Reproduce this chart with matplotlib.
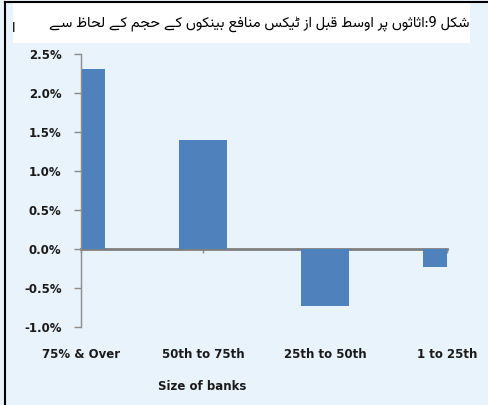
import numpy as np
import matplotlib
matplotlib.use("Agg")
import matplotlib.pyplot as plt
from matplotlib import font_manager
from matplotlib.ft2font import FT2Font
from matplotlib.ticker import FuncFormatter
from matplotlib.patches import Rectangle
from matplotlib.lines import Line2D

# data
categories = ["75% & Over", "50th to 75th", "25th to 50th", "1 to 25th"]
roa_pct = [2.30, 1.40, -0.73, -0.23]
title_ur = "شکل 9:اثاثوں پر اوسط قبل از ٹیکس منافع بینکوں کے حجم کے لحاظ سے"
xlabel = "Size of banks"

# matplotlib has no arabic shaping, so pick presentation forms by hand
# (iso, fin, ini, med) for dual joining, (iso, fin) for right joining
FORMS = {
    "ا": (0xFE8D, 0xFE8E),
    "ب": (0xFE8F, 0xFE90, 0xFE91, 0xFE92),
    "پ": (0xFB56, 0xFB57, 0xFB58, 0xFB59),
    "ٹ": (0xFB66, 0xFB67, 0xFB68, 0xFB69),
    "ث": (0xFE99, 0xFE9A, 0xFE9B, 0xFE9C),
    "ج": (0xFE9D, 0xFE9E, 0xFE9F, 0xFEA0),
    "ح": (0xFEA1, 0xFEA2, 0xFEA3, 0xFEA4),
    "ر": (0xFEAD, 0xFEAE),
    "ز": (0xFEAF, 0xFEB0),
    "س": (0xFEB1, 0xFEB2, 0xFEB3, 0xFEB4),
    "ش": (0xFEB5, 0xFEB6, 0xFEB7, 0xFEB8),
    "ط": (0xFEC1, 0xFEC2, 0xFEC3, 0xFEC4),
    "ظ": (0xFEC5, 0xFEC6, 0xFEC7, 0xFEC8),
    "ع": (0xFEC9, 0xFECA, 0xFECB, 0xFECC),
    "ف": (0xFED1, 0xFED2, 0xFED3, 0xFED4),
    "ق": (0xFED5, 0xFED6, 0xFED7, 0xFED8),
    "ک": (0xFB8E, 0xFB8F, 0xFB90, 0xFB91),
    "ل": (0xFEDD, 0xFEDE, 0xFEDF, 0xFEE0),
    "م": (0xFEE1, 0xFEE2, 0xFEE3, 0xFEE4),
    "ن": (0xFEE5, 0xFEE6, 0xFEE7, 0xFEE8),
    "و": (0xFEED, 0xFEEE),
    "ں": (0xFB9E, 0xFB9F),
    "ی": (0xFBFC, 0xFBFD, 0xFBFE, 0xFBFF),
    "ے": (0xFBAE, 0xFBAF),
}


def shape_rtl(s):
    out = []
    for i, c in enumerate(s):
        f = FORMS.get(c)
        if f is None:
            out.append(c)
            continue
        prev = s[i - 1] if i > 0 else ""
        nxt = s[i + 1] if i + 1 < len(s) else ""
        joins_prev = prev in FORMS and len(FORMS[prev]) == 4
        joins_next = len(f) == 4 and nxt in FORMS
        if joins_prev and joins_next:
            out.append(chr(f[3]))
        elif joins_prev:
            out.append(chr(f[1]))
        elif joins_next:
            out.append(chr(f[2]))
        else:
            out.append(chr(f[0]))
    return "".join(out)[::-1]


title_vis = shape_rtl(title_ur)

# find an installed family that has every shaped glyph (Vazirmatn if there)
need = {ord(c) for c in title_vis if ord(c) > 0x600}
urdu_family = "DejaVu Sans"
fonts = sorted(font_manager.fontManager.ttflist, key=lambda f: f.name != "Vazirmatn")
for f in fonts:
    try:
        cm = FT2Font(f.fname).get_charmap()
    except Exception:
        continue
    if need <= set(cm.keys()):
        urdu_family = f.name
        break

bg = "#e8f3fc"
bar_color = "#4f81bd"

fig = plt.figure(figsize=(4.89, 4.05), dpi=100, facecolor=bg)

# white title box and the black frame on top / left
fig.patches.append(Rectangle((0.027, 0.894), 0.935, 0.099, transform=fig.transFigure,
                             facecolor="white", edgecolor="none", zorder=0))
fig.lines.append(Line2D([0.010, 0.010], [0.0, 0.995], transform=fig.transFigure, color="black", lw=1.5))
fig.lines.append(Line2D([0.010, 1.0], [0.995, 0.995], transform=fig.transFigure, color="black", lw=1.5))

fig.text(0.960, 0.942, title_vis, ha="right", va="center", fontsize=10.5,
         family=[urdu_family, "DejaVu Sans"], color="black")
fig.text(0.024, 0.930, "ا", ha="left", va="center", fontsize=11,
         family=[urdu_family, "DejaVu Sans"])

ax = fig.add_axes([0.1656, 0.193, 0.7485, 0.674])
ax.set_facecolor("none")

x = np.arange(len(categories))
ax.bar(x, roa_pct, width=0.4, color=bar_color, zorder=2)

ax.set_xlim(0, 3)
ax.set_ylim(-1.0, 2.5)
ax.set_yticks(np.arange(-1.0, 2.51, 0.5))
ax.yaxis.set_major_formatter(FuncFormatter(lambda v, p: "{:.1f}%".format(v)))

for s in ["top", "right", "bottom"]:
    ax.spines[s].set_visible(False)
ax.spines["left"].set_color("#8c8c8c")
ax.spines["left"].set_linewidth(1.0)

ax.tick_params(axis="y", length=5, width=1, color="#8c8c8c", pad=9,
               labelsize=8.5, labelcolor="#1a1a1a")
ax.set_xticks(x)
ax.set_xticklabels(categories, fontsize=8.5, fontweight="bold", color="#1a1a1a")
ax.tick_params(axis="x", length=0, pad=15)
for lab in ax.get_yticklabels():
    lab.set_fontweight("bold")

# category axis crossing at zero
zero_ax = ax.secondary_xaxis(0, transform=ax.transData)
zero_ax.set_xticks(x)
zero_ax.tick_params(length=3, width=1, color="#8c8c8c", labelbottom=False)
zero_ax.spines["bottom"].set_color("#7f7f7f")
zero_ax.spines["bottom"].set_linewidth(2)

ax.set_xlabel(xlabel, fontsize=8.5, fontweight="bold", color="#1a1a1a")
ax.xaxis.set_label_coords(0.33, -0.195)
ax.xaxis.label.set_va("top")

fig.savefig("out.png", dpi=100, facecolor=bg)
